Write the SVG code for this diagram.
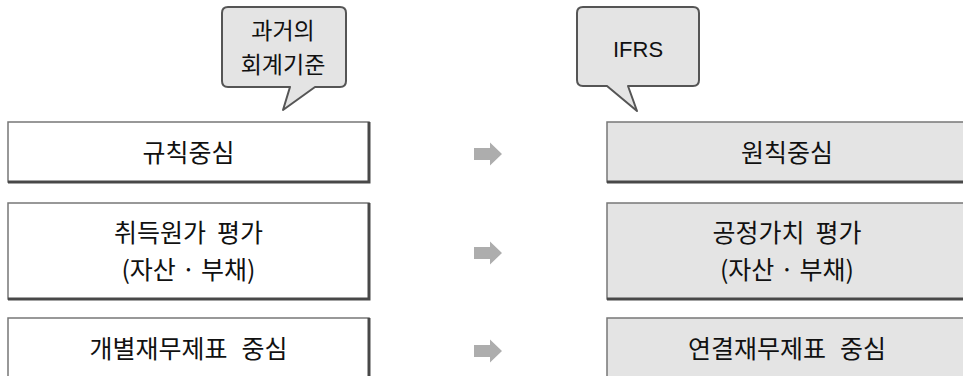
<svg xmlns="http://www.w3.org/2000/svg" width="963" height="376" viewBox="0 0 963 376">
<style>
.box{stroke:#777;stroke-width:1.5}
.old{fill:#ffffff}
.new{fill:#e4e4e4}
.shadow{fill:none;stroke:#484848;stroke-width:3}
.bubble{fill:#e4e4e4;stroke:#555;stroke-width:2;stroke-linejoin:round}
.t{font-family:"Noto Sans CJK KR","Noto Sans",sans-serif;font-size:25px;fill:#111;text-anchor:middle}
.bt{font-size:23px}
.en{font-family:"Liberation Sans",Arial,sans-serif;font-size:22px;fill:#111;text-anchor:middle}
.arrow{fill:#adadad}
</style>
<rect width="963" height="376" fill="#fff"/>
<g id="bubble-old">
<path class="bubble" d="M228,7 H340 Q346,7 346,13 V81 Q346,87 340,87 H315 L283,110 L290,87 H228 Q222,87 222,81 V13 Q222,7 228,7 Z"/>
<text class="t bt"><tspan x="283" y="39">과거의</tspan><tspan x="283" y="72.5">회계기준</tspan></text>
</g>
<g id="bubble-ifrs">
<path class="bubble" d="M583,7 H693 Q699,7 699,13 V80 Q699,86 693,86 H628 L637,111 L607,86 H583 Q577,86 577,80 V13 Q577,7 583,7 Z"/>
<text class="en" x="638" y="57">IFRS</text>
</g>
<g id="old-1">
<rect class="box old" x="8" y="122" width="361" height="60"/>
<polyline class="shadow" points="8,182 369,182 369,122"/>
<text class="t" x="188.5" y="162">규칙중심</text>
</g>
<g id="old-2">
<rect class="box old" x="8" y="203" width="361" height="96"/>
<polyline class="shadow" points="8,299 369,299 369,203"/>
<text class="t"><tspan x="188.5" y="242">취득원가</tspan><tspan dx="11">평가</tspan><tspan x="188.5" y="279">(자산 · 부채)</tspan></text>
</g>
<g id="old-3">
<rect class="box old" x="8" y="318" width="361" height="80"/>
<polyline class="shadow" points="369,318 369,398"/>
<text class="t" x="188.5" y="358">개별재무제표<tspan dx="14">중심</tspan></text>
</g>
<g id="new-1">
<rect class="box new" x="607" y="122" width="361" height="60"/>
<polyline class="shadow" points="607,182 968,182"/>
<text class="t" x="787" y="162">원칙중심</text>
</g>
<g id="new-2">
<rect class="box new" x="607" y="203" width="361" height="96"/>
<polyline class="shadow" points="607,299 968,299"/>
<text class="t"><tspan x="787" y="242">공정가치</tspan><tspan dx="11">평가</tspan><tspan x="787" y="279">(자산 · 부채)</tspan></text>
</g>
<g id="new-3">
<rect class="box new" x="607" y="318" width="361" height="80"/>
<text class="t" x="787" y="358">연결재무제표<tspan dx="14">중심</tspan></text>
</g>
<g id="connectors">
<polygon class="arrow" points="474,148 490,148 490,142.5 502,154 490,165.5 490,160 474,160"/>
<polygon class="arrow" points="474,247 490,247 490,241.5 502,253 490,264.5 490,259 474,259"/>
<polygon class="arrow" points="474,345 490,345 490,339.5 502,351 490,362.5 490,357 474,357"/>
</g>
</svg>
